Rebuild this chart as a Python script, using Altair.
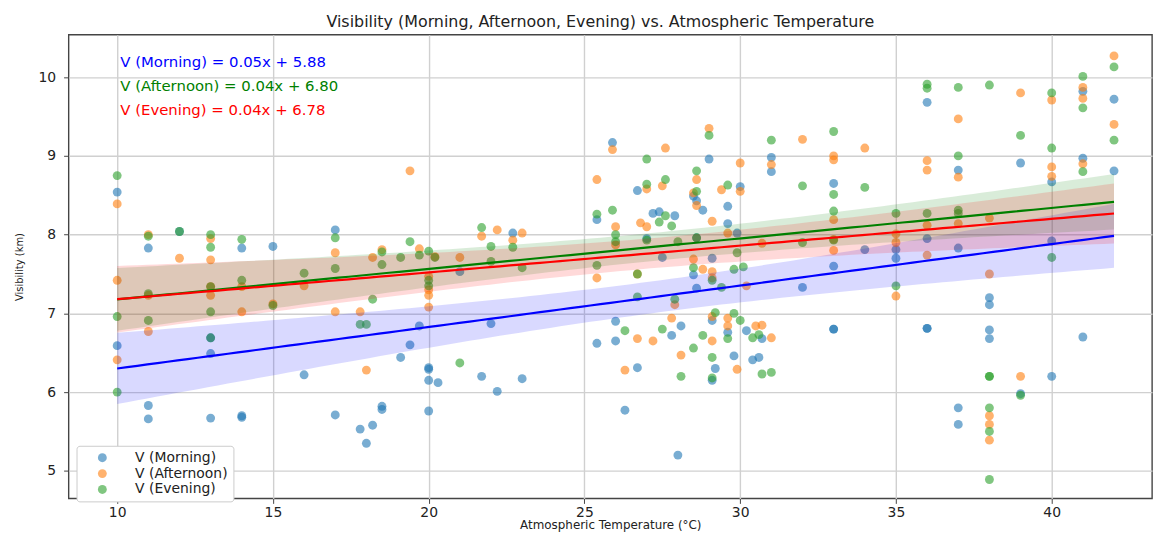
import altair as alt
import numpy as np
import pandas as pd

# ---------------- data ----------------
morning_x = [10, 10, 11, 11, 11, 12, 13, 13, 13, 14, 14, 14, 15, 16, 17, 17,
             17.8, 18, 18.2, 18.5, 18.5, 19.1, 19.4, 19.7, 20, 20, 20, 20.3, 20,
             21, 21.7, 22, 22.2, 22.7, 23,
             25.4, 25.4, 25.9, 26, 26, 26.3, 26.7, 26.7, 27, 27.2, 27.4, 27.5, 27.8, 27.9, 28, 28.1,
             28.5, 28.5, 28.6, 28.6, 28.6, 28.8, 29, 29.1, 29.1, 29.1, 29.2, 29.6, 29.6, 29.6, 29.8,
             29.9, 30, 30.2, 30.4, 30.6, 30.7,
             31, 31, 32, 33, 33, 33, 33, 34, 35, 35, 36, 36, 36, 36,
             37, 37, 37, 37, 38, 38, 38, 38, 39, 39, 40, 40, 40, 41, 41, 41, 42, 42]
morning_y = [8.54, 6.59, 7.83, 5.83, 5.66, 8.04, 6.69, 6.49, 5.67, 7.83, 5.70, 5.68, 7.85, 6.22, 8.06, 5.71,
             5.53, 5.35, 5.58, 5.82, 5.78, 6.44, 6.60, 6.84, 6.31, 6.29, 6.15, 6.12, 5.76,
             7.53, 6.20, 6.87, 6.01, 8.02, 6.17,
             8.19, 6.62, 9.17, 6.90, 6.65, 5.77, 8.56, 6.31, 7.95, 8.27, 8.29, 7.71, 6.72, 8.24, 5.20, 6.84,
             8.49, 7.49, 8.43, 7.32, 7.96, 8.31, 8.96, 7.70, 6.91, 6.15, 6.30, 8.36, 8.14, 6.76, 6.46,
             8.02, 8.61, 6.78, 6.41, 6.44, 6.68,
             8.98, 8.80, 7.33, 8.65, 7.60, 6.80, 6.80, 7.81, 7.81, 7.70, 9.68, 7.95, 6.81, 6.81,
             8.82, 7.83, 5.80, 5.59, 7.20, 7.11, 6.79, 6.68, 8.91, 5.98, 8.67, 7.92, 6.20, 9.82, 8.97, 6.70, 9.72, 8.81]

afternoon_x = [10, 10, 10, 11, 11, 11, 12, 13, 13, 13, 13, 14, 14, 15, 16, 17, 17,
               17.8, 18, 18.2, 18.5, 19.4, 19.7, 20, 20, 20, 20.2, 20,
               21, 21.7, 22.2, 22.7, 23,
               25.4, 25.4, 25.9, 26, 26, 26.3, 26.7, 26.7, 26.8, 27, 27, 27.2, 27.5, 27.6, 27.8, 27.9, 28.1,
               28.5, 28.5, 28.6, 28.6, 28.8, 29, 29.1, 29.1, 29.1, 29.1, 29.1, 29.4, 29.6, 29.6, 29.6, 29.9,
               30, 30, 30.2, 30.5, 30.7, 30.7, 31, 31,
               32, 33, 33, 33, 33, 33, 34, 35, 35, 35, 36, 36, 36, 36,
               37, 37, 37, 38, 38, 38, 38, 38, 39, 39, 40, 40, 40, 41, 41, 41, 42, 42]
afternoon_y = [8.39, 7.42, 6.41, 8.00, 7.23, 6.77, 7.70, 7.95, 7.68, 7.34, 7.23, 7.34, 7.02, 7.12, 7.35, 7.77, 7.02,
               7.02, 6.28, 7.71, 7.81, 8.81, 7.82, 7.30, 7.23, 7.08, 7.72, 7.47,
               7.71, 7.98, 8.06, 7.93, 8.02,
               8.70, 7.45, 9.08, 8.10, 7.87, 6.28, 6.68, 7.50, 8.15, 8.58, 8.10, 6.65, 8.62, 9.10, 6.94, 7.11, 6.47,
               8.53, 7.69, 8.70, 8.37, 7.56, 9.35, 8.17, 7.53, 7.45, 6.96, 6.65, 8.57, 8.02, 6.94, 6.84, 6.29,
               8.91, 8.55, 7.35, 6.84, 6.85, 7.89, 8.89, 6.69,
               9.21, 9.00, 8.95, 8.19, 7.94, 7.80, 9.10, 8.01, 7.90, 7.22, 8.94, 8.82, 8.12, 7.74,
               9.47, 8.73, 8.14, 8.21, 7.50, 5.70, 5.59, 5.39, 9.80, 6.20, 9.71, 8.86, 8.74, 9.87, 9.73, 8.90, 10.27, 9.40]

evening_x = [10, 10, 10, 11, 11, 11, 12, 13, 13, 13, 13, 13, 14, 14, 15, 16, 17, 17,
             17.8, 18, 18.2, 18.5, 18.5, 19.1, 19.4, 19.7, 20, 20, 20, 20.2,
             21, 21.7, 22, 22, 22.7, 23,
             25.4, 25.4, 25.9, 26, 26, 26.3, 26.7, 26.7, 27, 27, 27, 27.4, 27.5, 27.6, 27.6, 27.8, 27.9, 28, 28.1,
             28.5, 28.5, 28.6, 28.6, 28.6, 28.8, 29, 29.1, 29.1, 29.1, 29.2, 29.4, 29.6, 29.6, 29.8, 29.8,
             29.9, 30, 30.1, 30.4, 30.6, 30.7, 31, 31,
             32, 32, 33, 33, 33, 33, 34, 35, 35, 36, 36, 36,
             37, 37, 37, 37, 38, 38, 38, 38, 38, 38, 39, 39, 40, 40, 40, 41, 41, 41, 42, 42]
evening_y = [8.75, 6.96, 6.00, 7.98, 7.25, 6.91, 8.04, 8.00, 7.84, 7.34, 7.02, 6.69, 7.94, 7.42, 7.10, 7.51, 7.96, 7.57,
             6.86, 6.86, 7.18, 7.78, 7.62, 7.71, 7.91, 7.74, 7.79, 7.42, 7.35, 7.71,
             6.37, 8.09, 7.85, 7.66, 7.84, 7.58,
             8.26, 7.61, 8.31, 8.00, 7.91, 6.78, 7.50, 7.21, 8.96, 8.64, 7.93, 8.16, 6.80, 8.70, 8.24, 8.11, 7.18, 7.91, 6.20,
             7.58, 6.56, 8.81, 8.55, 7.96, 6.72, 9.26, 7.42, 6.44, 6.18, 7.01, 7.33, 8.63, 6.68, 7.56, 7.00,
             7.77, 6.91, 7.59, 6.69, 6.73, 6.23, 6.25, 9.20,
             8.62, 7.90, 9.31, 8.51, 8.30, 7.93, 8.60, 8.27, 7.35, 9.91, 9.86, 8.27,
             9.87, 9.00, 8.31, 8.27, 9.90, 6.20, 6.20, 5.80, 5.50, 4.89, 9.26, 5.96, 9.80, 9.10, 7.71, 10.01, 9.61, 8.80, 10.13, 9.20]

series_names = ["V (Morning)", "V (Afternoon)", "V (Evening)"]
point_colors = ["#1f77b4", "#ff7f0e", "#2ca02c"]
fit_colors = ["blue", "green", "red"]

equation_texts = ["V (Morning) = 0.05x + 5.88",
                  "V (Afternoon) = 0.04x + 6.80",
                  "V (Evening) = 0.04x + 6.78"]
equation_x = [10.1, 10.1, 10.1]
equation_y = [10.19, 9.89, 9.58]

x_ticks = [10, 15, 20, 25, 30, 35, 40]
y_ticks = [5, 6, 7, 8, 9, 10]

# ---------------- tables ----------------
xs = [morning_x, afternoon_x, evening_x]
ys = [morning_y, afternoon_y, evening_y]

pts = pd.concat([pd.DataFrame({"T": x, "V": y, "series": n})
                 for x, y, n in zip(xs, ys, series_names)], ignore_index=True)

fits = []
for x, y, n in zip(xs, ys, series_names):
    x = np.asarray(x, float)
    y = np.asarray(y, float)
    b, a = np.polyfit(x, y, 1)
    resid = y - (a + b * x)
    s = np.sqrt(np.sum(resid ** 2) / (len(x) - 2))
    sxx = np.sum((x - x.mean()) ** 2)
    g = np.linspace(x.min(), x.max(), 100)
    yhat = a + b * g
    half = 1.98 * s * np.sqrt(1.0 / len(x) + (g - x.mean()) ** 2 / sxx)
    fits.append(pd.DataFrame({"T": g, "fit": yhat, "lo": yhat - half, "hi": yhat + half, "series": n}))

ann = pd.DataFrame({"T": equation_x, "V": equation_y, "label": equation_texts, "c": fit_colors})

# ---------------- chart ----------------
FONT = "DejaVu Sans"
xscale = alt.Scale(domain=[8.44, 43.22], nice=False, zero=False)
yscale = alt.Scale(domain=[4.65, 10.54], nice=False, zero=False)

xaxis = alt.Axis(values=x_ticks, format="d", title="Atmospheric Temperature (°C)", grid=True,
                 labelFontSize=14, titleFontSize=12, titleFontWeight="normal",
                 titlePadding=0, labelPadding=2,
                 tickSize=5, tickColor="#444", domain=False, labelColor="#222", titleColor="#222")
yaxis = alt.Axis(values=y_ticks, format="d", title="Visibility (km)", grid=True,
                 labelFontSize=14, titleFontSize=10, titleFontWeight="normal",
                 titlePadding=14, labelPadding=8,
                 tickSize=5, tickColor="#444", domain=False, labelColor="#222", titleColor="#222")

points = alt.Chart(pts).mark_circle(size=80, opacity=0.6).encode(
    x=alt.X("T:Q", scale=xscale, axis=xaxis),
    y=alt.Y("V:Q", scale=yscale, axis=yaxis),
    color=alt.Color("series:N",
                    scale=alt.Scale(domain=series_names, range=point_colors),
                    sort=series_names,
                    legend=alt.Legend(title=None, orient="none", legendX=8, legendY=414,
                                      direction="vertical",
                                      symbolType="circle", symbolSize=80, symbolOpacity=0.6,
                                      labelFontSize=14, labelOffset=26, symbolOffset=14,
                                      rowPadding=2, padding=5, strokeColor="#cccccc",
                                      fillColor="white", cornerRadius=3,
                                      labelColor="#222")),
)

layers = [points]
for f, c in zip(fits, fit_colors):
    layers.append(alt.Chart(f).mark_area(opacity=0.15, color=c).encode(
        x="T:Q", y="lo:Q", y2="hi:Q"))
for f, c in zip(fits, fit_colors):
    layers.append(alt.Chart(f).mark_line(color=c, strokeWidth=2.2).encode(
        x="T:Q", y="fit:Q"))

texts = alt.Chart(ann).mark_text(align="left", baseline="middle", fontSize=15, font=FONT).encode(
    x="T:Q", y="V:Q", text="label:N", color=alt.Color("c:N", scale=None))
layers.append(texts)

chart = alt.layer(*layers).properties(
    width=1091, height=467,
    autosize=alt.AutoSizeParams(type="none"),
    padding={"left": 61, "top": 25, "right": 3, "bottom": 33},
    title=alt.Title("Visibility (Morning, Afternoon, Evening) vs. Atmospheric Temperature",
                    fontSize=16, fontWeight="normal", font=FONT, color="#222", offset=5, dx=-10),
).configure(font=FONT).configure_view(
    stroke="#444", strokeWidth=1.4
).configure_axis(
    gridColor="#d0d0d0", gridWidth=1.4
)

chart.save("out.html", embed_options={"renderer": "svg", "actions": False})
